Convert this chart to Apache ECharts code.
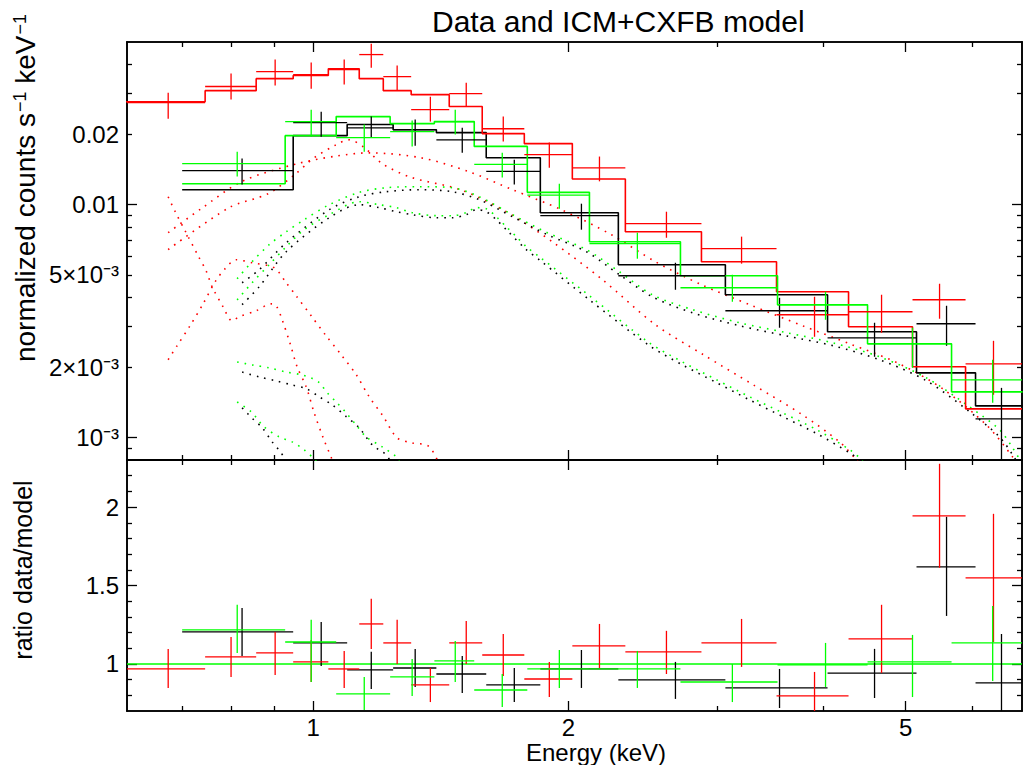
<!DOCTYPE html>
<html><head><meta charset="utf-8">
<script src="https://cdn.jsdelivr.net/npm/echarts@6/dist/echarts.min.js"></script>
<style>html,body{margin:0;padding:0;background:#fff}#c{width:1023px;height:765px}</style>
</head><body><div id="c"></div>
<script>
// ---------- axis ranges / ticks ----------
const xRange = [0.603, 6.86];
const yTopRange = [0.0008, 0.05];
const yRatioRange = [0.7, 2.3];
const xMajorTicks = [1, 2, 5];
const xMinorTicks = [0.7, 0.8, 0.9, 3, 4, 6];
const xTickLabels = ['1', '2', '5'];
const yTopMajorTicks = [0.001, 0.01];
const yTopMinorTicks = [0.0009, 0.002, 0.003, 0.004, 0.005, 0.006, 0.007, 0.008, 0.009, 0.02, 0.03, 0.04];
const yTopLabelValues = [0.001, 0.002, 0.005, 0.01, 0.02];
const yTopTickLabels = ['10\u207B\u00B3', '2\u00D710\u207B\u00B3', '5\u00D710\u207B\u00B3', '0.01', '0.02'];
const yRatioMajorTicks = [1, 1.5, 2];
const yRatioMinorTicks = [0.8, 0.9, 1.1, 1.2, 1.3, 1.4, 1.6, 1.7, 1.8, 1.9, 2.1, 2.2];
const yRatioTickLabels = ['1', '1.5', '2'];

// ---------- red spectrum ----------
const redEdges = [0.601,0.7456,0.8565,0.9471,1.042,1.1333,1.2098,1.305,1.4472,1.5829,1.7746,2.0219,2.3352,2.8715,3.5212,4.2821,5.0949,5.8848,6.86];
const redCenters = [0.6744,0.800,0.9018,0.9946,1.0879,1.1709,1.2562,1.3749,1.5156,1.676,1.8994,2.1766,2.611,3.2021,3.9042,4.684,5.4833,6.3487];
const redData = [0.02745,0.0322,0.0373,0.0362,0.03805,0.04415,0.0355,0.0256,0.0300,0.0212,0.0164,0.0144,0.00829,0.00647,0.003366,0.003467,0.003904,0.002072];
const redHi = [0.0303,0.0366,0.0420,0.0408,0.0420,0.0492,0.0396,0.0291,0.03345,0.0239,0.0185,0.0161,0.00933,0.00729,0.004022,0.004103,0.004575,0.002601];
const redLo = [0.0234,0.0283,0.0325,0.0315,0.0328,0.0388,0.0309,0.02275,0.0264,0.0187,0.0144,0.0126,0.00721,0.00558,0.002707,0.002816,0.003236,0.001525];
const redModel = [0.0277,0.0309,0.0348,0.0359,0.0384,0.0348,0.0309,0.0297,0.0264,0.0202,0.0183,0.0129,0.00765,0.00569,0.004227,0.00299,0.002011,0.001327];
const redRatio = [0.968,1.045,1.070,1.013,0.968,1.255,1.134,0.866,1.134,1.057,0.904,1.115,1.077,1.134,0.796,1.160,1.944,1.549];
const redRatioHi = [1.096,1.172,1.204,1.153,1.083,1.415,1.281,0.974,1.274,1.191,1.013,1.255,1.211,1.287,0.949,1.377,2.276,1.957];
const redRatioLo = [0.847,0.917,0.930,0.885,0.847,1.096,1.000,0.757,1.000,0.923,0.789,0.974,0.936,0.981,0.643,0.943,1.613,1.140];

// ---------- black spectrum ----------
const blackEdges = [0.7005,0.9471,1.0967,1.2426,1.3975,1.6002,1.8535,2.2911,3.0643,4.0447,5.1506,6.0464,6.872];
const blackCenters = [0.8243,1.022,1.1709,1.3193,1.4993,1.727,2.0725,2.6756,3.55,4.5956,5.5885,6.4882];
const blackData = [0.0140,0.0225,0.0214,0.0210,0.0190,0.0139,0.00897,0.00495,0.003502,0.00268,0.00308,0.001202];
const blackHi = [0.0158,0.0251,0.0239,0.0232,0.0214,0.0156,0.0101,0.00563,0.003982,0.00311,0.003679,0.001633];
const blackLo = [0.0122,0.0196,0.0194,0.0179,0.0167,0.0122,0.00781,0.00431,0.00296,0.002221,0.002476,0.0006];
const blackModel = [0.0116,0.0198,0.0221,0.0210,0.0204,0.0159,0.00924,0.00552,0.004103,0.002844,0.001895,0.001367];
const blackRatio = [1.204,1.134,0.962,0.974,0.936,0.866,0.968,0.898,0.847,0.942,1.619,0.879];
const blackRatioHi = [1.357,1.268,1.077,1.096,1.051,0.974,1.089,1.013,0.968,1.096,1.938,1.191];
const blackRatioLo = [1.051,0.987,0.840,0.853,0.815,0.757,0.847,0.777,0.719,0.783,1.306,0.580];

// ---------- green spectrum ----------
const greenEdges = [0.7005,0.9267,1.0645,1.2325,1.3899,1.5489,1.7891,2.1181,2.7122,3.5308,4.509,5.665,6.872];
const greenCenters = [0.8135,0.9946,1.1488,1.3085,1.471,1.6714,1.9518,2.4127,3.1232,4.0227,5.0949,6.3349];
const greenData = [0.0150,0.02275,0.0194,0.0206,0.02275,0.0149,0.0110,0.0068,0.004396,0.003716,0.002525,0.001768];
const greenHi = [0.0169,0.0256,0.0221,0.0230,0.0256,0.0167,0.0123,0.00758,0.005,0.004227,0.00296,0.002157];
const greenLo = [0.0132,0.0196,0.0169,0.0178,0.0200,0.0131,0.00961,0.00586,0.003828,0.003203,0.001991,0.001408];
const greenModel = [0.0123,0.0198,0.0239,0.0223,0.02275,0.0178,0.0113,0.00693,0.00495,0.003716,0.002525,0.00157];
const greenRatio = [1.217,1.140,0.809,0.917,1.019,0.834,0.968,0.968,0.885,0.994,1.013,1.134];
const greenRatioHi = [1.377,1.281,0.917,1.032,1.147,0.936,1.089,1.083,1.000,1.134,1.185,1.370];
const greenRatioLo = [1.070,0.885,0.706,0.796,0.885,0.726,0.847,0.847,0.757,0.853,0.789,0.892];
const unityRatio = 1;

// ---------- model components (dotted) ----------
const redComp1 = [[0.6743,0.00758],[0.7375,0.00961],[0.8244,0.0126],[0.9574,0.0150],[1.0674,0.0162],[1.1644,0.0167],[1.341,0.0159],[1.524,0.0139],[1.718,0.0116],[1.9625,0.00952],[2.2486,0.00743],[2.5337,0.00569],[2.8715,0.00453],[3.2724,0.00372],[3.779,0.00302],[4.2962,0.002525],[4.8917,0.00209],[5.5284,0.00162],[6.23,0.00113],[6.6877,0.000825],[6.85,0.00072]];
const redComp2 = [[0.6743,0.00641],[0.7958,0.00971],[0.8849,0.01115],[0.9522,0.0135],[1.0,0.0158],[1.0645,0.0181],[1.1027,0.0190],[1.1488,0.0176],[1.2063,0.0150],[1.305,0.0131],[1.4912,0.0116],[1.6898,0.00933],[1.915,0.00693],[2.1943,0.00476],[2.5337,0.00305],[2.8874,0.002265],[3.3082,0.00168],[3.779,0.00125],[4.1783,0.000957],[4.3767,0.0008],[4.45,0.00074]];
const redComp3 = [[0.6743,0.01082],[0.6874,0.00933],[0.708,0.00758],[0.7315,0.006035],[0.7476,0.0052],[0.7599,0.00444],[0.7829,0.00364],[0.8023,0.00317],[0.8177,0.0033],[0.8564,0.0035],[0.8921,0.00375],[0.9044,0.00368],[0.9193,0.0032],[0.9394,0.002525],[0.9574,0.00201],[0.9812,0.00165],[1.0027,0.001276],[1.0276,0.000996],[1.053,0.0008],[1.06,0.00074]];
const redComp4 = [[0.6743,0.002157],[0.691,0.00248],[0.7157,0.00302],[0.7415,0.00375],[0.7662,0.004667],[0.7872,0.00531],[0.8111,0.0058],[0.8471,0.00563],[0.8995,0.00536],[0.9293,0.00462],[0.9548,0.00406],[0.9946,0.00333],[1.036,0.00273],[1.0791,0.002265],[1.124,0.00186],[1.1644,0.001495],[1.2098,0.00123],[1.2562,0.000996],[1.3085,0.000948],[1.3668,0.00092],[1.4013,0.0008],[1.41,0.00074]];
const greenComp1 = [[0.8133,0.004807],[0.8471,0.00569],[0.8873,0.00673],[0.9293,0.00765],[0.9758,0.00862],[1.0445,0.0100],[1.1332,0.0113],[1.2195,0.01183],[1.3337,0.01195],[1.4591,0.01183],[1.57,0.01082],[1.718,0.00906],[1.8891,0.00758],[2.101,0.00641],[2.2981,0.00515],[2.5131,0.0041],[2.8024,0.00354],[3.184,0.00311],[3.6184,0.00282],[4.1011,0.00255],[4.6586,0.00222],[5.294,0.0018],[5.949,0.001354],[6.4531,0.00108],[6.6877,0.000902],[6.85,0.00078]];
const blackComp1 = [[0.8244,0.00462],[0.8635,0.005255],[0.9293,0.00686],[1.0445,0.00952],[1.1332,0.01082],[1.2195,0.01137],[1.3337,0.0116],[1.4591,0.01137],[1.57,0.01051],[1.718,0.00888],[1.8891,0.00743],[2.101,0.00628],[2.2981,0.0050],[2.5131,0.00402],[2.8024,0.00343],[3.184,0.00302],[3.6184,0.00273],[4.1011,0.00248],[4.6586,0.002157],[5.294,0.00175],[5.949,0.00129],[6.4531,0.001006],[6.6877,0.000842],[6.85,0.00073]];
const greenComp2 = [[0.8133,0.0039],[0.8471,0.00462],[0.8873,0.00552],[0.9293,0.0066],[0.9758,0.00781],[1.0445,0.00906],[1.1332,0.0103],[1.1965,0.0100],[1.2533,0.00971],[1.3085,0.00924],[1.3975,0.00897],[1.4591,0.00897],[1.5156,0.00924],[1.5572,0.00971],[1.6002,0.00961],[1.6444,0.00888],[1.6898,0.00804],[1.7367,0.00729],[1.7842,0.0066],[1.8484,0.005977],[2.1181,0.00406],[2.4927,0.00255],[2.7272,0.00211],[2.9911,0.00177],[3.2724,0.001495],[3.5792,0.001276],[3.9255,0.00108],[4.2962,0.000885],[4.4125,0.000817],[4.5,0.00075]];
const blackComp2 = [[0.8244,0.00372],[0.8635,0.00444],[0.9293,0.00628],[1.0445,0.00879],[1.1332,0.0100],[1.1965,0.00971],[1.2533,0.00933],[1.3085,0.00906],[1.3975,0.00879],[1.4591,0.00879],[1.5156,0.00906],[1.5572,0.00952],[1.6002,0.00933],[1.6444,0.00862],[1.6898,0.00781],[1.7842,0.00641],[1.8484,0.0058],[2.1181,0.0039],[2.4927,0.00248],[2.7272,0.00205],[2.9911,0.00172],[3.2724,0.00145],[3.5792,0.00123],[3.9255,0.00104],[4.2962,0.000858],[4.4125,0.0008],[4.48,0.00075]];
const greenComp3 = [[0.8133,0.00211],[0.8471,0.00205],[0.8873,0.00199],[0.9293,0.00191],[0.9679,0.00186],[0.9946,0.0018],[1.0164,0.00172],[1.0388,0.001555],[1.0645,0.00142],[1.0938,0.001276],[1.124,0.00113],[1.1549,0.001006],[1.2063,0.000911],[1.2533,0.000825],[1.27,0.00076]];
const blackComp3 = [[0.8244,0.00191],[0.8635,0.00182],[0.9044,0.00175],[0.9445,0.00168],[0.9812,0.00162],[1.0164,0.001495],[1.053,0.00138],[1.0938,0.00123],[1.1332,0.0011],[1.174,0.000929],[1.2195,0.000842],[1.24,0.00076]];
const greenComp4 = [[0.8133,0.00142],[0.8448,0.00129],[0.8753,0.00111],[0.9118,0.001006],[0.9445,0.000957],[0.9758,0.000885],[1.0054,0.0008],[1.015,0.00076]];
const blackComp4 = [[0.8244,0.00134],[0.8471,0.00121],[0.8706,0.0011],[0.8946,0.000957],[0.9168,0.000858],[0.9267,0.0008],[0.935,0.00075]];

// ---------- colours ----------
const RED = '#ff0000', GREEN = '#00ff00', BLACK = '#000000';
const FONT = 'Liberation Sans, Arial, Helvetica, sans-serif';

function steps(edges, vals) {
  const pts = [];
  for (let i = 0; i < vals.length; i++) { pts.push([edges[i], vals[i]], [edges[i + 1], vals[i]]); }
  return pts;
}
function crossItems(centers, edges, y, lo, hi) {
  return centers.map((c, i) => [c, edges[i], edges[i + 1], y[i], lo[i], hi[i]]);
}
function crossSeries(items, color, xi, yi, w) {
  return {
    type: 'custom', xAxisIndex: xi, yAxisIndex: yi, clip: true, silent: true,
    encode: { x: 0, y: 3 }, data: items, z: 5,
    renderItem: function (params, api) {
      const c = api.value(0), a = api.value(1), b = api.value(2), y = api.value(3), l = api.value(4), h = api.value(5);
      const p1 = api.coord([a, y]), p2 = api.coord([b, y]), p3 = api.coord([c, h]), p4 = api.coord([c, l]);
      return { type: 'group', children: [
        { type: 'line', shape: { x1: p1[0], y1: p1[1], x2: p2[0], y2: p2[1] }, style: { stroke: color, lineWidth: w } },
        { type: 'line', shape: { x1: p3[0], y1: p3[1], x2: p4[0], y2: p4[1] }, style: { stroke: color, lineWidth: w } }
      ] };
    }
  };
}
function stepSeries(pts, color, xi, yi) {
  return { type: 'line', xAxisIndex: xi, yAxisIndex: yi, data: pts, symbol: 'none', silent: true, z: 4,
    lineStyle: { color: color, width: 1.6 }, animation: false };
}
function dotSeries(pts, color) {
  return { type: 'line', xAxisIndex: 0, yAxisIndex: 0, data: pts, symbol: 'none', silent: true, smooth: 0.3, z: 3,
    lineStyle: { color: color, width: 1.6, type: [1.6, 6] }, animation: false };
}
function labelLookup(values, labels) {
  return function (v) {
    for (let i = 0; i < values.length; i++) {
      if (Math.abs(Math.log(v) - Math.log(values[i])) < 1e-6) return labels[i];
    }
    return '';
  };
}
function mkAxis(kind, grid, pos, range, ticks, len, labelVals, labelFmt) {
  const ax = {
    type: kind, gridIndex: grid, position: pos, min: range[0], max: range[1],
    axisLine: { show: true, onZero: false, lineStyle: { color: BLACK, width: 1.6 } },
    axisTick: { show: true, inside: true, length: len, customValues: ticks, lineStyle: { color: BLACK, width: 1.3 } },
    axisLabel: { show: false }, splitLine: { show: false }, minorTick: { show: false }
  };
  if (kind === 'log') ax.logBase = 10;
  if (labelVals) {
    ax.axisLabel = { show: true, customValues: labelVals, formatter: labelFmt, color: BLACK,
      fontSize: 24, fontFamily: FONT, margin: (pos === 'left') ? 8 : 7, lineHeight: (pos === 'left') ? 24 : 18 };
  }
  return ax;
}

const xAxes = [], yAxes = [];
// grid 0 (spectrum) x axes: 0 bottom minor, 1 bottom major, 2 top minor, 3 top major
xAxes.push(mkAxis('log', 0, 'bottom', xRange, xMinorTicks, 5));
xAxes.push(mkAxis('log', 0, 'bottom', xRange, xMajorTicks, 10));
xAxes.push(mkAxis('log', 0, 'top', xRange, xMinorTicks, 5));
xAxes.push(mkAxis('log', 0, 'top', xRange, xMajorTicks, 10));
// grid 1 (ratio) x axes: 4..7
xAxes.push(mkAxis('log', 1, 'bottom', xRange, xMinorTicks, 5));
xAxes.push(mkAxis('log', 1, 'bottom', xRange, xMajorTicks, 10, xMajorTicks, labelLookup(xMajorTicks, xTickLabels)));
xAxes.push(mkAxis('log', 1, 'top', xRange, xMinorTicks, 5));
xAxes.push(mkAxis('log', 1, 'top', xRange, xMajorTicks, 10));
// grid 0 y axes: 0 left minor (labels), 1 left major, 2 right minor, 3 right major
yAxes.push(mkAxis('log', 0, 'left', yTopRange, yTopMinorTicks, 5, yTopLabelValues, labelLookup(yTopLabelValues, yTopTickLabels)));
yAxes.push(mkAxis('log', 0, 'left', yTopRange, yTopMajorTicks, 10));
yAxes.push(mkAxis('log', 0, 'right', yTopRange, yTopMinorTicks, 5));
yAxes.push(mkAxis('log', 0, 'right', yTopRange, yTopMajorTicks, 10));
// grid 1 y axes: 4..7
yAxes.push(mkAxis('value', 1, 'left', yRatioRange, yRatioMinorTicks, 5, yRatioMajorTicks, function (v) {
  for (let i = 0; i < yRatioMajorTicks.length; i++) if (Math.abs(v - yRatioMajorTicks[i]) < 1e-6) return yRatioTickLabels[i];
  return '';
}));
yAxes.push(mkAxis('value', 1, 'left', yRatioRange, yRatioMajorTicks, 10));
yAxes.push(mkAxis('value', 1, 'right', yRatioRange, yRatioMinorTicks, 5));
yAxes.push(mkAxis('value', 1, 'right', yRatioRange, yRatioMajorTicks, 10));

const series = [
  dotSeries(redComp1, RED), dotSeries(redComp2, RED), dotSeries(redComp3, RED), dotSeries(redComp4, RED),
  dotSeries(blackComp1, BLACK), dotSeries(blackComp2, BLACK), dotSeries(blackComp3, BLACK), dotSeries(blackComp4, BLACK),
  dotSeries(greenComp1, GREEN), dotSeries(greenComp2, GREEN), dotSeries(greenComp3, GREEN), dotSeries(greenComp4, GREEN),
  stepSeries(steps(blackEdges, blackModel), BLACK, 0, 0),
  stepSeries(steps(redEdges, redModel), RED, 0, 0),
  stepSeries(steps(greenEdges, greenModel), GREEN, 0, 0),
  crossSeries(crossItems(blackCenters, blackEdges, blackData, blackLo, blackHi), BLACK, 0, 0, 1.3),
  crossSeries(crossItems(redCenters, redEdges, redData, redLo, redHi), RED, 0, 0, 1.3),
  crossSeries(crossItems(greenCenters, greenEdges, greenData, greenLo, greenHi), GREEN, 0, 0, 1.3),
  // ratio panel
  { type: 'line', xAxisIndex: 4, yAxisIndex: 4, data: [[xRange[0], unityRatio], [xRange[1], unityRatio]], symbol: 'none',
    silent: true, z: 4, lineStyle: { color: GREEN, width: 1.6 } },
  crossSeries(crossItems(blackCenters, blackEdges, blackRatio, blackRatioLo, blackRatioHi), BLACK, 4, 4, 1.3),
  crossSeries(crossItems(redCenters, redEdges, redRatio, redRatioLo, redRatioHi), RED, 4, 4, 1.3),
  crossSeries(crossItems(greenCenters, greenEdges, greenRatio, greenRatioLo, greenRatioHi), GREEN, 4, 4, 1.3)
];

const chart = echarts.init(document.getElementById('c'), null, { renderer: 'svg', width: 1023, height: 765 });
chart.setOption({
  backgroundColor: '#ffffff',
  animation: false,
  grid: [
    { left: 127, top: 42, width: 895, height: 418, containLabel: false },
    { left: 127, top: 460, width: 895, height: 251, containLabel: false }
  ],
  xAxis: xAxes,
  yAxis: yAxes,
  series: series,
  graphic: [
    { type: 'text', x: 432, y: 21, silent: true,
      style: { text: 'Data and ICM+CXFB model', font: '30px ' + FONT, fill: BLACK, textAlign: 'left', textVerticalAlign: 'middle' } },
    { type: 'text', x: 25, y: 188, rotation: Math.PI / 2, silent: true,
      style: { text: 'normalized counts s{sup|\u22121} keV{sup|\u22121}', font: '28px ' + FONT, fill: BLACK,
        textAlign: 'center', textVerticalAlign: 'middle',
        rich: { sup: { font: '18px ' + FONT, fill: BLACK, verticalAlign: 'top', padding: [0, 0, 10, 1] } } } },
    { type: 'text', x: 23, y: 570, rotation: Math.PI / 2, silent: true,
      style: { text: 'ratio data/model', font: '25px ' + FONT, fill: BLACK, textAlign: 'center', textVerticalAlign: 'middle' } },
    { type: 'text', x: 596, y: 752, silent: true,
      style: { text: 'Energy (keV)', font: '24px ' + FONT, fill: BLACK, textAlign: 'center', textVerticalAlign: 'middle', lineHeight: 18 } }
  ]
});
</script>
</body></html>
